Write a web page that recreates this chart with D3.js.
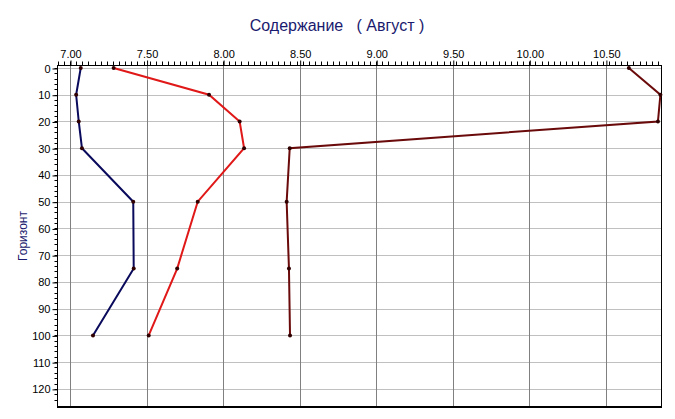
<!DOCTYPE html>
<html><head><meta charset="utf-8">
<script src="https://cdn.jsdelivr.net/npm/d3@7"></script>
<style>body{margin:0;background:#fff}svg{display:block}text{font-family:Arial,"Liberation Sans",sans-serif}</style>
</head><body>
<svg id="c" width="675" height="419"></svg>
<script>
const depths = [0, 10, 20, 30, 50, 75, 100];
const seriesBlue = [7.07, 7.04, 7.057, 7.078, 7.413, 7.416, 7.15];
const seriesRed = [7.285, 7.908, 8.108, 8.137, 7.834, 7.70, 7.514];
const seriesDark = [10.65, 10.856, 10.84, 8.435, 8.415, 8.43, 8.437];
const xTicks = [7.0, 7.5, 8.0, 8.5, 9.0, 9.5, 10.0, 10.5];
const yTicks = [0, 10, 20, 30, 40, 50, 60, 70, 80, 90, 100, 110, 120];
const title = "Содержание   ( Август )";
const yLabel = "Горизонт";

const svg = d3.select("#c");
const L = 57, R = 661, T = 65, B = 406;
const x = d3.scaleLinear().domain([6.915, 10.860]).range([L, R]);
const y = d3.scaleLinear().domain([-1.12, 126.4]).range([T, B]);

// grid
const g = svg.append("g");
g.selectAll(".hg").data(yTicks).join("line")
  .attr("x1", L).attr("x2", R).attr("y1", d => Math.round(y(d)) + 0.5).attr("y2", d => Math.round(y(d)) + 0.5)
  .attr("stroke", "#c0c0c0").attr("stroke-width", 1);
g.selectAll(".vg").data(xTicks).join("line")
  .attr("y1", T).attr("y2", B).attr("x1", d => Math.round(x(d)) + 0.5).attr("x2", d => Math.round(x(d)) + 0.5)
  .attr("stroke", "#808080").attr("stroke-width", 1);

// border
svg.append("rect").attr("x", L + 0.5).attr("y", T + 0.5).attr("width", R - L).attr("height", B - T)
  .attr("fill", "none").attr("stroke", "#000").attr("stroke-width", 1);
svg.append("line").attr("x1", L).attr("x2", R + 1).attr("y1", B + 1).attr("y2", B + 1).attr("stroke", "#000").attr("stroke-width", 2);

// top axis
const minorX = d3.range(6.92, 10.86, 0.04);
const xAxis = d3.axisTop(x).tickValues(xTicks).tickFormat(d3.format(".2f")).tickSize(5).tickPadding(3);
const xa = svg.append("g").attr("transform", `translate(0.5,${T + 0.5})`).call(xAxis);
xa.select(".domain").remove();
xa.selectAll("text").attr("font-size", 11).attr("fill", "#000").attr("font-family", "Arial, 'Liberation Sans', sans-serif");
svg.append("g").attr("transform", `translate(0.5,${T + 0.5})`).selectAll("line").data(minorX).join("line")
  .attr("x1", d => Math.round(x(d))).attr("x2", d => Math.round(x(d))).attr("y1", 0).attr("y2", -4).attr("stroke", "#000");

// left axis
const minorY = d3.range(0, 126, 2);
const yAxis = d3.axisLeft(y).tickValues(yTicks).tickSize(5).tickPadding(2);
const ya = svg.append("g").attr("transform", `translate(${L + 0.5},0.5)`).call(yAxis);
ya.select(".domain").remove();
ya.selectAll("text").attr("font-size", 11).attr("fill", "#000").attr("font-family", "Arial, 'Liberation Sans', sans-serif");
svg.append("g").attr("transform", `translate(${L + 0.5},0.5)`).selectAll("line").data(minorY).join("line")
  .attr("y1", d => Math.round(y(d))).attr("y2", d => Math.round(y(d))).attr("x1", 0).attr("x2", -3).attr("stroke", "#000");

// series
const series = [
  {vals: seriesBlue, color: "#0a0a5c"},
  {vals: seriesRed, color: "#e01818"},
  {vals: seriesDark, color: "#6a0a0a"}
];
const line = d3.line().x(d => x(d[0])).y(d => y(d[1]));
series.forEach(s => {
  const pts = s.vals.map((v, i) => [v, depths[i]]);
  svg.append("path").attr("d", line(pts)).attr("fill", "none").attr("stroke", s.color).attr("stroke-width", 2);
  svg.append("g").selectAll("circle").data(pts).join("circle")
    .attr("cx", d => x(d[0])).attr("cy", d => y(d[1])).attr("r", 2).attr("fill", "#300000");
});

// title
svg.append("text").attr("x", 337).attr("y", 31).attr("text-anchor", "middle").attr("font-size", 16)
  .attr("fill", "#1a1a6e").style("white-space", "pre").text(title);
svg.append("text").attr("transform", "translate(27,236) rotate(-90)").attr("text-anchor", "middle")
  .attr("font-size", 12).attr("fill", "#1a1a6e").text(yLabel);
</script>
</body></html>
